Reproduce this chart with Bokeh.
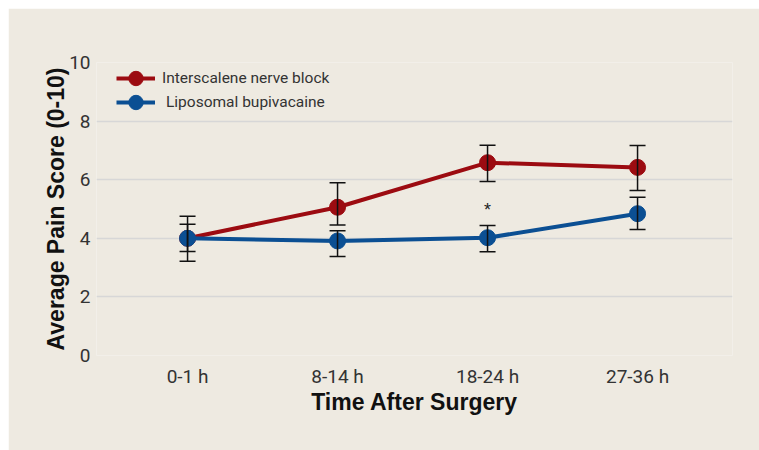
from bokeh.plotting import figure
from bokeh.models import ColumnDataSource, Whisker, TeeHead, Legend, LegendItem, FixedTicker
from bokeh.core.properties import value
from bokeh.embed import file_html
from bokeh.resources import INLINE

# ---- data ----
categories = ["0-1 h", "8-14 h", "18-24 h", "27-36 h"]
x_pos = [0, 1, 2, 3]
isb_mean = [4.0, 5.06, 6.58, 6.42]
isb_upper = [4.75, 5.90, 7.18, 7.17]
isb_lower = [3.22, 4.45, 5.94, 5.63]
lb_mean = [4.0, 3.91, 4.02, 4.84]
lb_upper = [4.48, 4.26, 4.44, 5.40]
lb_lower = [3.55, 3.38, 3.54, 4.30]
sig_x = [2]
sig_y = [5.1]
sig_text = ["*"]
y_ticks = [0, 2, 4, 6, 8, 10]
series_names = ["Interscalene nerve block", "Liposomal bupivacaine"]

BG = "#eeeae1"
RED = "#9c0b11"
BLUE = "#0b4f93"
TXT = "#333333"

p = figure(width=751, height=442, x_range=(-0.607, 3.633), y_range=(0, 10),
           output_backend="svg", toolbar_location=None,
           min_border_left=88, min_border_right=27, min_border_top=54, min_border_bottom=95,
           background_fill_color=BG, border_fill_color=BG, outline_line_color=None)
p.margin = (8, 0, 0, 8)

p.xgrid.visible = False
p.ygrid.ticker = FixedTicker(ticks=y_ticks)
p.ygrid.grid_line_color = "#d7d7d7"
p.ygrid.grid_line_width = 1.5

# axes
p.xaxis.ticker = FixedTicker(ticks=x_pos)
p.xaxis.major_label_overrides = {x: c for x, c in zip(x_pos, categories)}
p.yaxis.ticker = FixedTicker(ticks=y_ticks)
for ax in (p.xaxis, p.yaxis):
    ax.axis_line_color = None
    ax.major_tick_line_color = None
    ax.minor_tick_line_color = None
    ax.major_tick_out = 0
    ax.major_tick_in = 0
    ax.major_label_text_font = "Roboto"
    ax.major_label_text_font_size = "19px"
    ax.major_label_text_color = TXT
    ax.axis_label_text_font = "Liberation Sans"
    ax.axis_label_text_font_style = "bold"
    ax.axis_label_text_font_size = "23px"
    ax.axis_label_text_color = "#111111"
p.xaxis.major_label_standoff = 9
p.yaxis.major_label_standoff = 6
p.xaxis.axis_label = "Time After Surgery"
p.yaxis.axis_label = "Average Pain Score (0-10)"
p.xaxis.axis_label_standoff = -2
p.yaxis.axis_label_standoff = -3

src_isb = ColumnDataSource(dict(x=x_pos, y=isb_mean, upper=isb_upper, lower=isb_lower))
src_lb = ColumnDataSource(dict(x=x_pos, y=lb_mean, upper=lb_upper, lower=lb_lower))

l1 = p.line("x", "y", source=src_isb, line_color=RED, line_width=4)
s1 = p.scatter("x", "y", source=src_isb, marker="circle", size=16, fill_color=RED, line_color=RED)
l2 = p.line("x", "y", source=src_lb, line_color=BLUE, line_width=4)
s2 = p.scatter("x", "y", source=src_lb, marker="circle", size=16, fill_color=BLUE, line_color=BLUE)

for src in (src_isb, src_lb):
    w = Whisker(source=src, base="x", upper="upper", lower="lower",
                line_color="#111111", line_width=1.5, level="overlay",
                upper_head=TeeHead(size=16, line_color="#111111", line_width=1.5),
                lower_head=TeeHead(size=16, line_color="#111111", line_width=1.5))
    p.add_layout(w)

p.text(x=sig_x, y=sig_y, text=sig_text, text_font=value("Liberation Sans"),
       text_font_size="18px", text_color="#222222", text_align="center",
       text_baseline="middle", y_offset=4)

legend_common = dict(margin=0, padding=0, spacing=0, glyph_width=39, glyph_height=36,
                     label_text_font="Roboto", label_text_font_size="15.5px",
                     label_text_color=TXT, border_line_color=None,
                     background_fill_alpha=0)
leg1 = Legend(items=[LegendItem(label=series_names[0], renderers=[l1, s1])],
              location=(20, 259), label_standoff=7, **legend_common)
leg2 = Legend(items=[LegendItem(label=series_names[1], renderers=[l2, s2])],
              location=(20, 235), label_standoff=11, **legend_common)
p.add_layout(leg1)
p.add_layout(leg2)

open("out.html", "w").write(file_html(p, INLINE))
